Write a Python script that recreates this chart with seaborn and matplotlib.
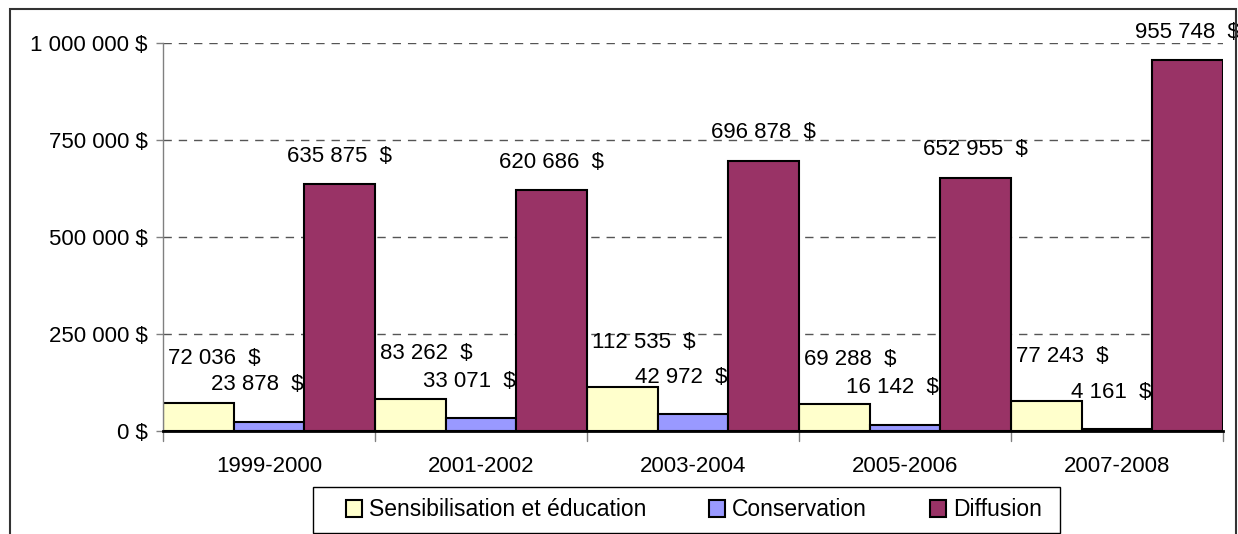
import numpy as np
import pandas as pd
import matplotlib
matplotlib.use("Agg")
import matplotlib.pyplot as plt
import seaborn as sns
from matplotlib.patches import Rectangle

# données
periodes = ['1999-2000', '2001-2002', '2003-2004', '2005-2006', '2007-2008']
sensibilisation = [72036, 83262, 112535, 69288, 77243]
conservation = [23878, 33071, 42972, 16142, 4161]
diffusion = [635875, 620686, 696878, 652955, 955748]
series = ['Sensibilisation et éducation', 'Conservation', 'Diffusion']
couleurs = ['#FFFFCC', '#9999FF', '#993366']
yticks = [0, 250000, 500000, 750000, 1000000]

df = pd.DataFrame({
    'periode': periodes * 3,
    'serie': [series[0]] * 5 + [series[1]] * 5 + [series[2]] * 5,
    'montant': sensibilisation + conservation + diffusion,
})

def fmt(v):
    return f"{v:,}".replace(",", " ")

sns.set_style("white")
plt.rcParams['font.family'] = ['Liberation Sans', 'DejaVu Sans']
plt.rcParams['text.color'] = 'black'
plt.rcParams['xtick.color'] = 'black'
plt.rcParams['ytick.color'] = 'black'

W, H = 1238, 534
fig = plt.figure(figsize=(W / 100, H / 100), dpi=100)
ax = fig.add_axes([163 / W, 1 - 431 / H, (1223 - 163) / W, (431 - 43) / H])

sns.barplot(data=df, x='periode', y='montant', hue='serie', palette=couleurs,
            width=1.0, edgecolor='black', linewidth=1.5, saturation=1, ax=ax, legend=True)

# étiquettes des barres (à la manière d'Excel)
# (ancrage horizontal, alignement, décalage x en px, décalage y en px)
placements = [(0.0, 'left', 5, 45), (1.0, 'right', -1, 37), (0.5, 'center', 0, 28)]
for cont, (fx, ha, dx, dy) in zip(ax.containers, placements):
    for bar in cont:
        h = bar.get_height()
        ax.annotate(fmt(int(round(h))) + "  $", (bar.get_x() + fx * bar.get_width(), h),
                    xytext=(dx, dy), textcoords='offset pixels', ha=ha, va='center',
                    fontsize=16, color='black', annotation_clip=False)

ax.set_ylim(0, 1000000)
ax.set_xlim(-0.5, 4.5)
ax.set_yticks(yticks)
ax.set_yticklabels([fmt(v) + " $" for v in yticks], fontsize=16)
ax.set_xticks(np.arange(5))
ax.set_xticklabels(periodes, fontsize=16)
ax.tick_params(axis='x', length=0, pad=18)
ax.tick_params(axis='y', length=5, width=1, color='#808080', left=True, pad=6)
# petites marques entre les groupes
for xb in np.arange(-0.5, 5, 1):
    ax.plot([xb, xb], [0, -0.025], transform=ax.get_xaxis_transform(), color='#808080',
            lw=1, clip_on=False)
ax.set_xlabel('')
ax.set_ylabel('')
for yv in yticks[1:]:
    ax.axhline(yv, color='#555555', lw=1, ls=(0, (6, 5)), zorder=0)
for s in ['top', 'right']:
    ax.spines[s].set_visible(False)
ax.spines['left'].set_color('#808080')
ax.spines['left'].set_linewidth(1)
ax.spines['bottom'].set_color('black')
ax.spines['bottom'].set_linewidth(2)

handles, labels = ax.get_legend_handles_labels()
ax.get_legend().remove()
leg = fig.legend(handles, labels, loc='center left', bbox_to_anchor=(346 / W, 1 - 510 / H),
                 ncol=3, fontsize=16.5, frameon=False,
                 handlelength=0.7, handleheight=0.7, handletextpad=0.3,
                 columnspacing=2.75, borderpad=0, borderaxespad=0)
for t in leg.get_texts():
    t.set_color('black')
fig.patches.append(Rectangle((313 / W, 1 - 533 / H), (1060 - 313) / W, 46 / H,
                             transform=fig.transFigure, fill=False, edgecolor='black', lw=1))

# cadre extérieur
fig.patches.append(Rectangle((10 / W, -0.1), (1236 - 10) / W, 1.1 - 9 / H,
                             transform=fig.transFigure, fill=False, edgecolor='#333333', lw=1.5))

fig.savefig('out.png', dpi=100)
